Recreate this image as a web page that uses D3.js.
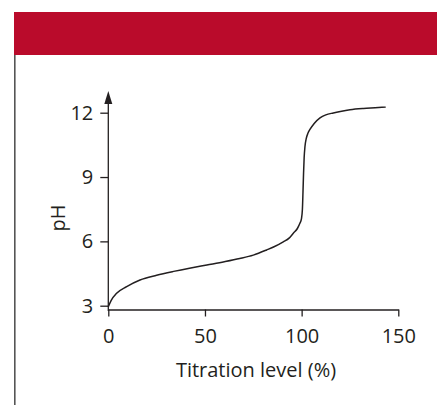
<!DOCTYPE html>
<html><head><meta charset="utf-8">
<script src="https://cdn.jsdelivr.net/npm/d3@7"></script>
<style>html,body{margin:0;padding:0;background:#fff;}svg{display:block;}</style>
</head><body>
<script>
const titration = [0, 1.5, 4.3, 9.5, 16.4, 25, 33.8, 42, 51, 60, 68, 75, 81.9, 86, 90.5, 93.5, 95.7, 97.8, 99.1, 99.9, 100.4, 100.7, 101.0, 101.3, 101.7, 102.4, 103.3, 104.3, 106.5, 109.5, 112.5, 116.4, 120, 125, 132, 138, 143.5];
const pH = [2.95, 3.25, 3.58, 3.89, 4.2, 4.42, 4.6, 4.75, 4.9, 5.05, 5.2, 5.36, 5.6, 5.76, 5.98, 6.15, 6.38, 6.6, 6.84, 7.05, 7.5, 8.3, 9.2, 9.9, 10.4, 10.8, 11.05, 11.22, 11.5, 11.76, 11.9, 11.99, 12.06, 12.14, 12.2, 12.23, 12.26];
const xTicks = [0, 50, 100, 150];
const yTicks = [3, 6, 9, 12];
const xLabel = "Titration level (%)";
const yLabel = "pH";

const W = 437, H = 405;
const svg = d3.select("body").append("svg").attr("width", W).attr("height", H);

// header band and left rule
svg.append("rect").attr("x", 14).attr("y", 12).attr("width", W - 14).attr("height", 43).attr("fill", "#BA0B2B");
svg.append("line").attr("x1", 14.8).attr("x2", 14.8).attr("y1", 55).attr("y2", H)
  .attr("stroke", "#555").attr("stroke-width", 1.6);

const x = d3.scaleLinear().domain([0, 150]).range([108.3, 398.3]);
const y = d3.scaleLinear().domain([3, 12]).range([305.7, 112.7]);
const ink = "#231f20";
const font = "'Open Sans', 'Noto Sans', sans-serif";
const fs = "20px";

const xAxisY = 309.5;
// x axis
const gx = svg.append("g").attr("transform", `translate(0,${xAxisY})`)
  .call(d3.axisBottom(x).tickValues(xTicks).tickSize(7).tickPadding(12.5).tickSizeOuter(0));
gx.select(".domain").attr("stroke", ink).attr("stroke-width", 1.3);
gx.selectAll(".tick line").attr("stroke", ink).attr("stroke-width", 1.3);
gx.selectAll(".tick text").attr("fill", ink).style("font-family", font).style("font-size", fs);

// y axis
const gy = svg.append("g").attr("transform", `translate(${x(0)},0)`)
  .call(d3.axisLeft(y).tickValues(yTicks).tickSize(8).tickPadding(7).tickSizeOuter(0));
gy.select(".domain").remove();
gy.selectAll(".tick line").attr("stroke", ink).attr("stroke-width", 1.3);
gy.selectAll(".tick text").attr("fill", ink).style("font-family", font).style("font-size", fs);
svg.append("line").attr("x1", x(0)).attr("x2", x(0)).attr("y1", 311).attr("y2", 100)
  .attr("stroke", ink).attr("stroke-width", 1.3);
// arrow head
svg.append("path")
  .attr("d", `M${x(0)},91 L${x(0) - 4},104 L${x(0) + 4},104 Z`)
  .attr("fill", ink);

// axis titles
svg.append("text").attr("x", 256).attr("y", 377)
  .attr("text-anchor", "middle").attr("fill", ink)
  .style("font-family", font).style("font-size", fs).text(xLabel);
svg.append("text").attr("transform", "translate(65,218) rotate(-90)")
  .attr("text-anchor", "middle").attr("fill", ink)
  .style("font-family", font).style("font-size", fs).text(yLabel);

// curve
const pts = titration.map((t, i) => [t, pH[i]]);
svg.append("path").datum(pts)
  .attr("d", d3.line().x(d => x(d[0])).y(d => y(d[1])).curve(d3.curveMonotoneX))
  .attr("fill", "none").attr("stroke", ink).attr("stroke-width", 1.5);
</script>
</body></html>
